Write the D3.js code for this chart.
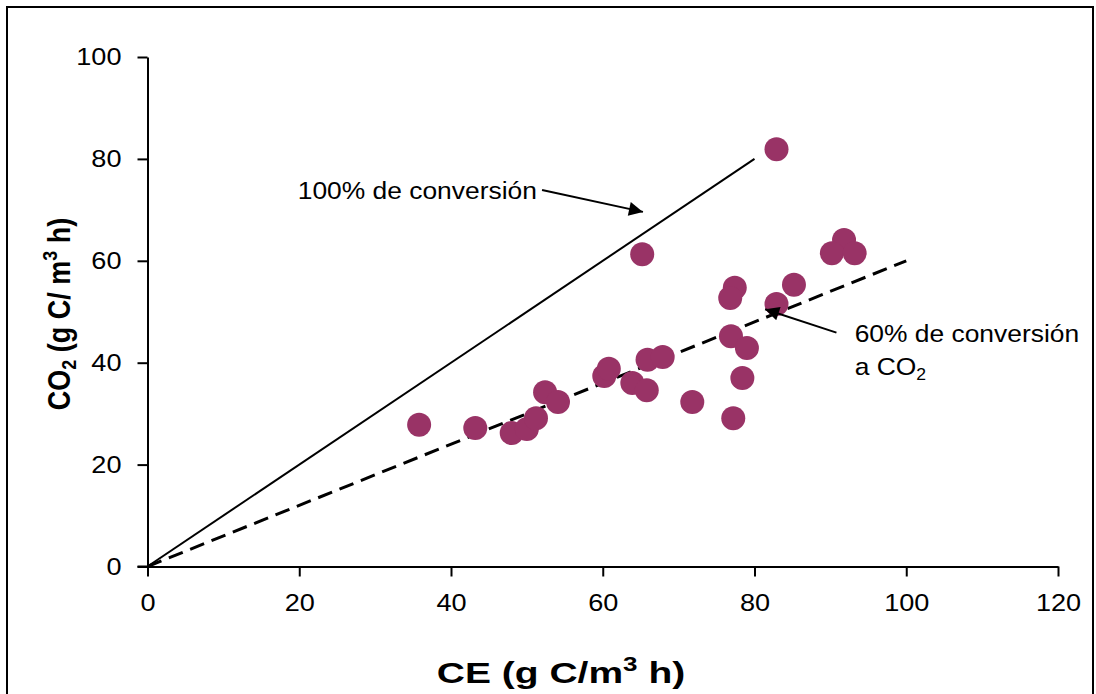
<!DOCTYPE html>
<html>
<head>
<meta charset="utf-8">
<script src="https://cdn.jsdelivr.net/npm/d3@7"></script>
<style>
  html, body { margin: 0; padding: 0; background: #fff; }
  svg { display: block; font-family: "Liberation Sans", Arial, sans-serif; }
</style>
</head>
<body>
<svg id="chart" width="1096" height="694"></svg>
<script>
// ---- data ----
const ceValues  = [35.8, 43.2, 48.0, 50.0, 51.2, 52.4, 54.1, 60.2, 60.8, 63.9, 65.8, 65.9, 67.9, 71.8, 77.4, 76.8, 85.2, 82.9, 76.9, 79.0, 78.4, 77.2, 82.9, 65.2, 91.8, 90.2, 93.2];
const co2Values = [27.8, 27.2, 26.2, 27.0, 29.1, 34.2, 32.3, 37.4, 38.8, 36.0, 34.6, 40.6, 41.1, 32.3, 54.7, 52.7, 55.3, 51.5, 45.2, 42.9, 37.0, 29.1, 81.9, 61.3, 64.1, 61.5, 61.5];
const line100 = [[0, 0], [80, 80]];
const line60  = [[0, 0], [100, 60]];
const xTicks = [0, 20, 40, 60, 80, 100, 120];
const yTicks = [0, 20, 40, 60, 80, 100];
const label100 = "100% de conversión";
const label60a = "60% de conversión";

const svg = d3.select("#chart");
const x = d3.scaleLinear().domain([0, 120]).range([147.5, 1058]);
const y = d3.scaleLinear().domain([0, 100]).range([566.5, 57]);
const SX = 1.13; // horizontal widening of glyphs seen in the reference

// outer frame
svg.append("rect").attr("x", 7).attr("y", 7).attr("width", 1086).attr("height", 700)
  .attr("fill", "none").attr("stroke", "#000").attr("stroke-width", 2);

// axes
const xAxis = svg.append("g").attr("transform", `translate(0,${y(0)})`)
  .call(d3.axisBottom(x).tickValues(xTicks).tickSize(10).tickPadding(17).tickSizeOuter(0));
const yAxis = svg.append("g").attr("transform", `translate(${x(0)},0)`)
  .call(d3.axisLeft(y).tickValues(yTicks).tickSize(10).tickPadding(16).tickSizeOuter(0));
[xAxis, yAxis].forEach(a => {
  a.select(".domain").attr("stroke", "#000").attr("stroke-width", 2);
  a.selectAll(".tick line").attr("stroke", "#000").attr("stroke-width", 2);
  a.selectAll(".tick text").attr("fill", "#000").attr("font-size", 24)
    .attr("font-family", "Liberation Sans, Arial, sans-serif");
});
xAxis.selectAll(".tick text").attr("transform", `scale(${SX},1)`);
yAxis.selectAll(".tick text").attr("x", null).attr("transform", `translate(-26,0) scale(${SX},1)`);
// extend x axis line left to meet y tick at 0
svg.append("line").attr("x1", x(0) - 10).attr("x2", x(0)).attr("y1", y(0)).attr("y2", y(0))
  .attr("stroke", "#000").attr("stroke-width", 2);

// lines
const lineGen = d3.line().x(d => x(d[0])).y(d => y(d[1]));
svg.append("path").attr("d", lineGen(line100)).attr("fill", "none")
  .attr("stroke", "#000").attr("stroke-width", 2);
svg.append("path").attr("d", lineGen(line60)).attr("fill", "none")
  .attr("stroke", "#000").attr("stroke-width", 3).attr("stroke-dasharray", "15,8");

// points
svg.append("g").selectAll("circle").data(ceValues.map((v, i) => [v, co2Values[i]]))
  .join("circle").attr("cx", d => x(d[0])).attr("cy", d => y(d[1])).attr("r", 12)
  .attr("fill", "#993366");

// arrowhead
svg.append("defs").append("marker").attr("id", "ah").attr("viewBox", "0 0 10 10")
  .attr("refX", 10).attr("refY", 5).attr("markerWidth", 18).attr("markerHeight", 14)
  .attr("markerUnits", "userSpaceOnUse").attr("orient", "auto")
  .append("path").attr("d", "M0,0 L10,5 L0,10 z").attr("fill", "#000");

// annotations
svg.append("line").attr("x1", x(52.0)).attr("y1", y(73.9)).attr("x2", x(65.3)).attr("y2", y(69.6))
  .attr("stroke", "#000").attr("stroke-width", 2).attr("marker-end", "url(#ah)");
svg.append("text").attr("transform", `translate(${x(19.8)},${y(72.1)}) scale(1.1,1)`)
  .attr("font-size", 24).text(label100);

svg.append("line").attr("x1", x(90.8)).attr("y1", y(45.9)).attr("x2", x(81.4)).attr("y2", y(50.5))
  .attr("stroke", "#000").attr("stroke-width", 2).attr("marker-end", "url(#ah)");
svg.append("text").attr("transform", `translate(${x(93.2)},${y(44.1)}) scale(1.1,1)`)
  .attr("font-size", 24).text(label60a);
const t2 = svg.append("text").attr("transform", `translate(${x(93.2)},${y(37.6)}) scale(1.1,1)`)
  .attr("font-size", 24);
t2.append("tspan").text("a CO");
t2.append("tspan").attr("font-size", 16).attr("dy", 5).text("2");

// axis titles
const xt = svg.append("text").attr("transform", "translate(561,683) scale(1.3,1)")
  .attr("text-anchor", "middle").attr("font-size", 30).attr("font-weight", "bold");
xt.append("tspan").text("CE (g C/m");
xt.append("tspan").attr("font-size", 20).attr("dy", -12).text("3");
xt.append("tspan").attr("dy", 12).text(" h)");

const yt = svg.append("text").attr("transform", "translate(70,314) scale(1.17,1) rotate(-90)")
  .attr("text-anchor", "middle").attr("font-size", 27).attr("font-weight", "bold");
yt.append("tspan").text("CO");
yt.append("tspan").attr("font-size", 18).attr("dy", 5).text("2");
yt.append("tspan").attr("dy", -5).text(" (g C/ m");
yt.append("tspan").attr("font-size", 18).attr("dy", -11).text("3");
yt.append("tspan").attr("dy", 11).text(" h)");
</script>
</body>
</html>
